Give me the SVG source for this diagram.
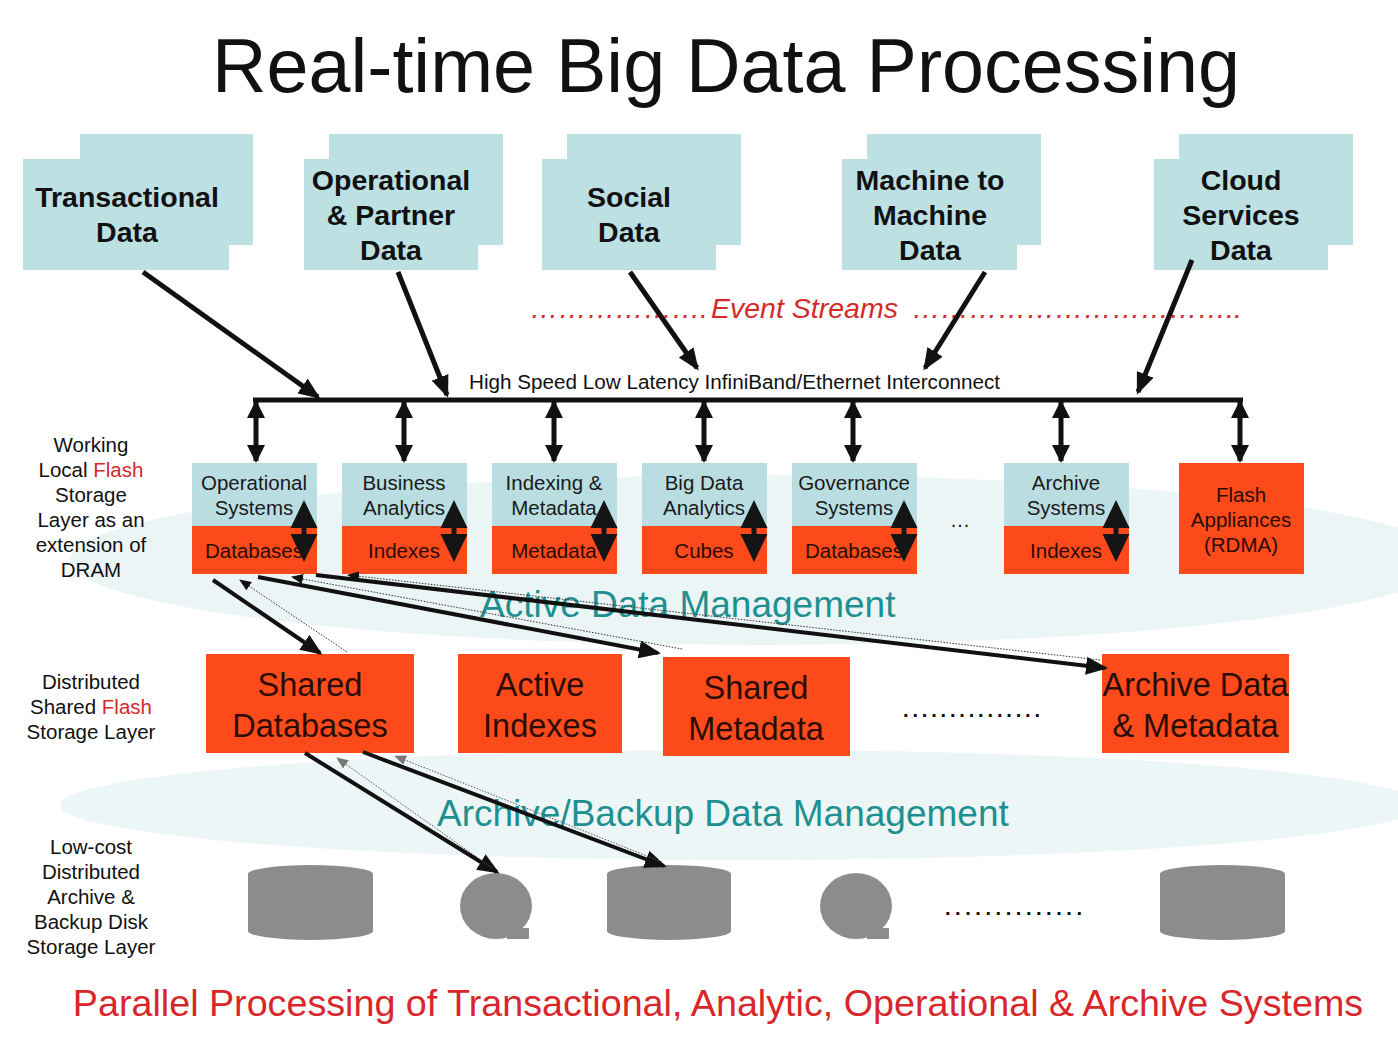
<svg xmlns="http://www.w3.org/2000/svg" width="1398" height="1044" viewBox="0 0 1398 1044">
<style>
text{font-family:"Liberation Sans",Arial,sans-serif;}
.title{font-size:75.5px;fill:#111;}
.src{fill:#bde0e3;}
.srct{font-size:28.5px;font-weight:bold;fill:#111;text-anchor:middle;}
.up{fill:#b9dde0;}
.org{fill:#fd4a1b;}
.mt{font-size:20.5px;fill:#1a1a1a;text-anchor:middle;}
.ot{font-size:20.5px;fill:#2a0c05;text-anchor:middle;}
.bt{font-size:32.5px;fill:#2a0c05;text-anchor:middle;}
.lbl{font-size:20.5px;fill:#111;text-anchor:middle;}
.red{fill:#d42a2a;}
.teal{font-size:37px;fill:#1f9090;}
.thick{stroke:#111;stroke-width:5;fill:none;marker-end:url(#ah);}
.thick4{stroke:#111;stroke-width:4;fill:none;marker-end:url(#ah);}
.bus{stroke:#111;stroke-width:5;fill:none;}
.dbl{stroke:#111;stroke-width:5;fill:none;marker-start:url(#dh);marker-end:url(#dh);}
.dot{stroke:#333;stroke-width:1;stroke-dasharray:1.5 1.5;fill:none;marker-end:url(#sh);}
.dotg{stroke:#555;stroke-width:1;stroke-dasharray:1.5 1.5;fill:none;marker-end:url(#shg);}
.inner{fill:#151515;}
.disk{fill:#8c8c8c;}
.dots{font-size:20px;fill:#111;font-weight:bold;}
</style>
<defs>
<marker id="ah" viewBox="0 0 22 18" refX="19" refY="9" markerWidth="22" markerHeight="18" markerUnits="userSpaceOnUse" orient="auto"><path d="M0,0 L22,9 L0,18 z" fill="#111"/></marker>
<marker id="dh" viewBox="0 0 18 18" refX="16" refY="9" markerWidth="18" markerHeight="18" markerUnits="userSpaceOnUse" orient="auto-start-reverse"><path d="M0,0 L18,9 L0,18 z" fill="#111"/></marker>
<marker id="sh" viewBox="0 0 12 10" refX="11" refY="5" markerWidth="12" markerHeight="10" markerUnits="userSpaceOnUse" orient="auto"><path d="M0,0 L12,5 L0,10 z" fill="#111"/></marker>
<marker id="shg" viewBox="0 0 12 10" refX="11" refY="5" markerWidth="12" markerHeight="10" markerUnits="userSpaceOnUse" orient="auto"><path d="M0,0 L12,5 L0,10 z" fill="#777"/></marker>
</defs>
<rect width="1398" height="1044" fill="#ffffff"/>
<g id="background" opacity="0.45">
<ellipse cx="760" cy="560" rx="690" ry="85" fill="#d6eaec"/>
<ellipse cx="740" cy="805" rx="680" ry="55" fill="#d6eaec"/>
</g>
<text class="title" x="726" y="92" text-anchor="middle">Real-time Big Data Processing</text>

<g id="src-transactional">
<rect class="src" x="80" y="134" width="173" height="111"/>
<rect class="src" x="23" y="159" width="206" height="111"/>
<text class="srct" x="127" y="207">Transactional</text>
<text class="srct" x="127" y="242">Data</text>
</g>
<g id="src-operational">
<rect class="src" x="329" y="134" width="174" height="111"/>
<rect class="src" x="304" y="159" width="174" height="111"/>
<text class="srct" x="391" y="190">Operational</text>
<text class="srct" x="391" y="225">&amp; Partner</text>
<text class="srct" x="391" y="260">Data</text>
</g>
<g id="src-social">
<rect class="src" x="567" y="134" width="174" height="111"/>
<rect class="src" x="542" y="159" width="174" height="111"/>
<text class="srct" x="629" y="207">Social</text>
<text class="srct" x="629" y="242">Data</text>
</g>
<g id="src-m2m">
<rect class="src" x="867" y="134" width="174" height="111"/>
<rect class="src" x="842" y="159" width="175" height="111"/>
<text class="srct" x="930" y="190">Machine to</text>
<text class="srct" x="930" y="225">Machine</text>
<text class="srct" x="930" y="260">Data</text>
</g>
<g id="src-cloud">
<rect class="src" x="1179" y="134" width="174" height="111"/>
<rect class="src" x="1154" y="159" width="174" height="111"/>
<text class="srct" x="1241" y="190">Cloud</text>
<text class="srct" x="1241" y="225">Services</text>
<text class="srct" x="1241" y="260">Data</text>
</g>

<g id="event-streams" font-style="italic" font-size="28.5px">
<text class="red" x="530" y="318" textLength="178" lengthAdjust="spacing">……………….</text>
<text class="red" x="711" y="318">Event Streams</text>
<text class="red" x="912" y="318" textLength="330" lengthAdjust="spacing">……………………………..</text>
</g>

<text x="469" y="389" font-size="20px" fill="#111" textLength="531" lengthAdjust="spacingAndGlyphs">High Speed Low Latency InfiniBand/Ethernet Interconnect</text>

<g id="mid-operational">
<rect class="up" x="192" y="463" width="125" height="63"/>
<rect class="org" x="192" y="526" width="125" height="48"/>
<text class="mt" x="254" y="490">Operational</text>
<text class="mt" x="254" y="515">Systems</text>
<text class="ot" x="254" y="558">Databases</text>
</g>
<g id="mid-business">
<rect class="up" x="342" y="463" width="125" height="63"/>
<rect class="org" x="342" y="526" width="125" height="48"/>
<text class="mt" x="404" y="490">Business</text>
<text class="mt" x="404" y="515">Analytics</text>
<text class="ot" x="404" y="558">Indexes</text>
</g>
<g id="mid-indexing">
<rect class="up" x="492" y="463" width="125" height="63"/>
<rect class="org" x="492" y="526" width="125" height="48"/>
<text class="mt" x="554" y="490">Indexing &amp;</text>
<text class="mt" x="554" y="515">Metadata</text>
<text class="ot" x="554" y="558">Metadata</text>
</g>
<g id="mid-bigdata">
<rect class="up" x="642" y="463" width="125" height="63"/>
<rect class="org" x="642" y="526" width="125" height="48"/>
<text class="mt" x="704" y="490">Big Data</text>
<text class="mt" x="704" y="515">Analytics</text>
<text class="ot" x="704" y="558">Cubes</text>
</g>
<g id="mid-governance">
<rect class="up" x="792" y="463" width="125" height="63"/>
<rect class="org" x="792" y="526" width="125" height="48"/>
<text class="mt" x="854" y="490">Governance</text>
<text class="mt" x="854" y="515">Systems</text>
<text class="ot" x="854" y="558">Databases</text>
</g>
<text class="mt" x="960" y="527">…</text>
<g id="mid-archive">
<rect class="up" x="1004" y="463" width="125" height="63"/>
<rect class="org" x="1004" y="526" width="125" height="48"/>
<text class="mt" x="1066" y="490">Archive</text>
<text class="mt" x="1066" y="515">Systems</text>
<text class="ot" x="1066" y="558">Indexes</text>
</g>
<g id="mid-flash">
<rect class="org" x="1179" y="463" width="125" height="111"/>
<text class="ot" x="1241" y="502">Flash</text>
<text class="ot" x="1241" y="527">Appliances</text>
<text class="ot" x="1241" y="552">(RDMA)</text>
</g>

<g id="inner-arrows">
<path class="inner" d="M304,500 L317.5,528 L306.5,528 L306.5,534 L317.5,534 L304,562 L290.5,534 L301.5,534 L301.5,528 L290.5,528 z"/>
<path class="inner" d="M454,500 L467.5,528 L456.5,528 L456.5,534 L467.5,534 L454,562 L440.5,534 L451.5,534 L451.5,528 L440.5,528 z"/>
<path class="inner" d="M604,500 L617.5,528 L606.5,528 L606.5,534 L617.5,534 L604,562 L590.5,534 L601.5,534 L601.5,528 L590.5,528 z"/>
<path class="inner" d="M754,500 L767.5,528 L756.5,528 L756.5,534 L767.5,534 L754,562 L740.5,534 L751.5,534 L751.5,528 L740.5,528 z"/>
<path class="inner" d="M904,500 L917.5,528 L906.5,528 L906.5,534 L917.5,534 L904,562 L890.5,534 L901.5,534 L901.5,528 L890.5,528 z"/>
<path class="inner" d="M1116,500 L1129.5,528 L1118.5,528 L1118.5,534 L1129.5,534 L1116,562 L1102.5,534 L1113.5,534 L1113.5,528 L1102.5,528 z"/>
</g>

<text class="teal" x="480" y="617">Active Data Management</text>

<g id="shared-databases">
<rect class="org" x="206" y="654" width="208" height="99"/>
<text class="bt" x="310" y="696">Shared</text>
<text class="bt" x="310" y="737">Databases</text>
</g>
<g id="active-indexes">
<rect class="org" x="458" y="654" width="164" height="99"/>
<text class="bt" x="540" y="696">Active</text>
<text class="bt" x="540" y="737">Indexes</text>
</g>
<g id="shared-metadata">
<rect class="org" x="663" y="657" width="187" height="99"/>
<text class="bt" x="756" y="699">Shared</text>
<text class="bt" x="756" y="740">Metadata</text>
</g>
<text class="dots" x="903" y="717" textLength="137" lengthAdjust="spacing">...............</text>
<g id="archive-data">
<rect class="org" x="1102" y="654" width="187" height="99"/>
<text class="bt" x="1195.5" y="696">Archive Data</text>
<text class="bt" x="1195.5" y="737">&amp; Metadata</text>
</g>

<text class="teal" x="437" y="826">Archive/Backup Data Management</text>

<g id="disk-1"><path class="disk" d="M248,874 A62.5,9 0 0 1 373,874 L373,931 A62.5,9 0 0 1 248,931 z"/></g>
<g id="disk-2"><ellipse class="disk" cx="496" cy="906" rx="36" ry="33"/><rect class="disk" x="507" y="928" width="22" height="11"/></g>
<g id="disk-3"><path class="disk" d="M607,874 A62,9 0 0 1 731,874 L731,931 A62,9 0 0 1 607,931 z"/></g>
<g id="disk-4"><ellipse class="disk" cx="856" cy="906" rx="36" ry="33"/><rect class="disk" x="867" y="928" width="22" height="11"/></g>
<text class="dots" x="945" y="915" textLength="137" lengthAdjust="spacing">..............</text>
<g id="disk-5"><path class="disk" d="M1160,874 A62.5,9 0 0 1 1285,874 L1285,931 A62.5,9 0 0 1 1160,931 z"/></g>

<g id="layer-labels">
<text class="lbl" x="91" y="452">Working</text>
<text class="lbl" x="91" y="477">Local <tspan class="red">Flash</tspan></text>
<text class="lbl" x="91" y="502">Storage</text>
<text class="lbl" x="91" y="527">Layer as an</text>
<text class="lbl" x="91" y="552">extension of</text>
<text class="lbl" x="91" y="577">DRAM</text>
<text class="lbl" x="91" y="689">Distributed</text>
<text class="lbl" x="91" y="714">Shared <tspan class="red">Flash</tspan></text>
<text class="lbl" x="91" y="739">Storage Layer</text>
<text class="lbl" x="91" y="854">Low-cost</text>
<text class="lbl" x="91" y="879">Distributed</text>
<text class="lbl" x="91" y="904">Archive &amp;</text>
<text class="lbl" x="91" y="929">Backup Disk</text>
<text class="lbl" x="91" y="954">Storage Layer</text>
</g>

<g id="connectors">
<line class="thick" x1="143" y1="272" x2="318" y2="397"/>
<line class="thick" x1="398" y1="272" x2="447" y2="395"/>
<line class="thick" x1="630" y1="272" x2="697" y2="368"/>
<line class="thick" x1="985" y1="272" x2="925" y2="368"/>
<line class="thick" x1="1192" y1="260" x2="1138" y2="392"/>
<line class="bus" x1="253" y1="400" x2="1243" y2="400"/>
<line class="dbl" x1="256" y1="402" x2="256" y2="461"/>
<line class="dbl" x1="404" y1="402" x2="404" y2="461"/>
<line class="dbl" x1="554" y1="402" x2="554" y2="461"/>
<line class="dbl" x1="704" y1="402" x2="704" y2="461"/>
<line class="dbl" x1="853" y1="402" x2="853" y2="461"/>
<line class="dbl" x1="1061" y1="402" x2="1061" y2="461"/>
<line class="dbl" x1="1240" y1="402" x2="1240" y2="461"/>
<line class="thick4" x1="213" y1="580" x2="320" y2="653"/>
<line class="dot" x1="347" y1="652" x2="240" y2="580"/>
<line class="thick4" x1="258" y1="577" x2="658" y2="653"/>
<line class="dot" x1="682" y1="649" x2="292" y2="577"/>
<line class="thick4" x1="316" y1="575" x2="1105" y2="668"/>
<line class="dot" x1="1100" y1="660" x2="348" y2="575"/>
<line class="thick4" x1="305" y1="753" x2="497" y2="872"/>
<line class="dotg" x1="492" y1="868" x2="337" y2="758"/>
<line class="thick4" x1="363" y1="752" x2="664" y2="866"/>
<line class="dotg" x1="662" y1="862" x2="395" y2="756"/>
</g>

<text x="718" y="1016" font-size="37.7px" fill="#d9262a" text-anchor="middle">Parallel Processing of Transactional, Analytic, Operational &amp; Archive Systems</text>
</svg>
